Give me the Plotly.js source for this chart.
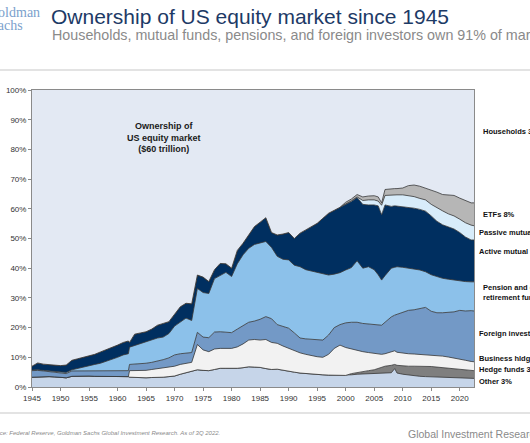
<!DOCTYPE html>
<html>
<head>
<meta charset="utf-8">
<script src="https://cdn.plot.ly/plotly-3.0.1.min.js"></script>
<style>
  html, body { margin: 0; padding: 0; background: #ffffff; }
  #chart { width: 530px; height: 443px; }
</style>
</head>
<body>
<div id="chart"></div>
<script>
// ---- Data (cumulative share of US equity market, %) ----
const years = [1945,1946,1947,1948,1949,1950,1951,1952,1953,1954,1955,1956,1957,1958,1959,1960,1961,1961.9,1962.1,
  1963,1964,1965,1966,1967,1968,1969,
  1970,1971,1972,1973,1974,1975,1976,1977,1978,1979,
  1980,1981,1982,1983,1984,1985,1986,1987,1988,1989,
  1990,1991,1992,1993,1994,1995,1996,1997,1998,1999,
  2000,2001,2002,2003,2004,2005,2005.7,2006.3,2006.9,2008,2008.6,2009,
  2010,2011,2012,2013,2014,2015,2016,2017,2018,2019,2020,2021,2022,2022.5];

const otherTop = [3.3,3.4,3.5,3.5,3.4,3.3,3.1,3.6,3.7,3.7,3.7,3.6,3.6,3.5,3.5,3.5,3.5,3.5,3.3,
  3.2,3.2,3.1,3.2,3.2,3.3,3.5,
  3.7,4.3,4.8,5.3,5.8,5.6,5.5,5.9,6.3,6.3,
  6.2,6.3,6.5,6.8,6.7,6.6,6.2,5.9,6.0,5.6,
  5.2,5.0,4.7,4.5,4.4,4.1,4.1,4.0,4.0,3.9,
  3.9,4.1,4.3,4.4,4.5,4.6,4.7,4.8,4.8,4.8,6.2,4.7,
  4.3,4.0,3.8,3.6,3.5,3.4,3.3,3.3,3.2,3.1,3.1,3.0,2.9,2.9];

const hedgeTop = [3.3,3.4,3.5,3.5,3.4,3.3,3.1,3.6,3.7,3.7,3.7,3.6,3.6,3.5,3.5,3.5,3.5,3.5,3.3,
  3.2,3.2,3.1,3.2,3.2,3.3,3.5,
  3.7,4.3,4.8,5.3,5.8,5.6,5.5,5.9,6.3,6.3,
  6.2,6.3,6.5,6.8,6.7,6.6,6.2,5.9,6.0,5.6,
  5.2,5.0,4.7,4.5,4.4,4.1,4.1,4.0,4.0,3.9,
  3.9,4.5,4.9,5.2,5.5,5.8,6.2,6.8,7.0,7.3,7.6,7.3,
  7.1,7.0,7.0,7.0,7.0,6.9,6.7,6.5,6.3,6.1,5.9,5.7,5.6,5.5];

const businessTop = [3.3,3.4,3.5,3.5,3.4,3.3,3.1,3.6,3.7,3.7,3.7,3.6,3.6,3.5,3.5,3.5,3.5,3.5,5.5,
  5.5,5.5,5.6,5.9,6.2,6.5,6.7,
  7.0,7.6,8.0,8.3,14.3,12.5,11.9,12.8,13.0,13.0,
  13.0,13.5,14.5,15.8,16.0,15.8,16.0,15.0,14.7,13.8,
  13.0,12.3,11.5,11.0,10.5,10.2,10.0,11.0,13.0,14.1,
  13.3,12.8,12.3,11.9,11.6,11.3,11.1,11.0,11.2,11.8,12.2,11.7,
  11.4,11.2,11.1,11.0,10.9,10.8,10.6,10.4,10.1,9.8,9.5,9.0,8.6,8.5];

const foreignTop = [5.5,5.6,5.4,5.2,5.0,4.6,4.5,5.4,5.4,5.4,5.4,5.4,5.5,5.5,5.5,5.5,5.5,5.5,7.6,
  7.7,7.8,8.0,8.3,8.7,9.2,9.8,
  10.8,11.2,11.5,11.6,18.4,16.8,16.6,18.5,18.6,18.4,
  18.3,19.5,20.8,21.8,22.2,22.8,23.7,23.0,21.0,20.5,
  19.8,18.2,16.5,16.2,16.0,15.9,15.8,17.5,20.0,21.0,
  21.6,21.8,21.8,21.4,21.2,21.0,20.8,20.8,21.8,23.6,24.2,24.5,
  25.2,25.8,26.0,26.5,26.8,25.5,25.0,25.0,25.2,25.3,25.8,25.6,25.7,25.6];

const pensionTop = [5.7,5.8,5.6,5.4,5.2,4.9,4.9,5.8,6.3,6.8,7.1,7.6,8.0,8.6,9.2,10.0,10.8,11.2,13.4,
  14.0,14.6,15.3,15.8,16.5,16.8,18.0,
  20.5,22.0,23.2,22.4,33.2,31.8,31.5,36.5,37.5,38.6,
  37.2,41.5,44.5,46.7,48.0,48.6,49.0,47.0,44.0,43.0,
  42.8,41.0,40.5,39.5,39.0,38.5,38.0,37.7,38.0,38.5,
  39.4,40.2,42.5,40.0,40.5,39.5,37.8,36.0,37.5,40.0,40.3,40.5,
  40.3,40.0,39.8,39.4,38.8,37.8,37.2,36.6,36.3,36.0,35.8,35.5,35.4,35.4];

const activeTop = [7.0,8.1,7.7,7.5,7.3,7.2,7.4,9.0,9.5,10.0,10.4,11.0,11.8,12.5,13.3,14.1,15.0,15.5,15.0,
  17.8,18.2,18.6,19.5,20.8,21.4,22.0,
  24.5,27.0,28.2,28.0,37.7,37.0,35.5,39.5,41.6,41.5,
  40.0,46.0,48.4,51.0,54.0,55.5,57.0,52.0,51.2,51.5,
  52.0,50.0,51.8,52.9,54.0,55.1,56.8,58.5,59.5,60.5,
  61.5,62.5,63.8,61.5,61.3,61.3,61.0,58.0,61.3,60.8,61.0,60.9,
  60.9,60.5,60.2,59.8,59.2,57.6,55.8,54.6,54.0,53.2,52.0,50.5,49.5,49.5];

const passiveTop = [7.0,8.1,7.7,7.5,7.3,7.2,7.4,9.0,9.5,10.0,10.4,11.0,11.8,12.5,13.3,14.1,15.0,15.5,15.0,
  17.8,18.2,18.6,19.5,20.8,21.4,22.0,
  24.5,27.0,28.2,28.0,37.7,37.0,35.5,39.5,41.6,41.5,
  40.0,46.0,48.4,51.0,54.0,55.5,57.0,52.0,51.2,51.5,
  52.0,50.0,51.8,52.9,54.0,55.1,56.8,58.5,59.5,60.5,
  61.6,62.7,64.0,62.8,63.0,63.0,62.6,61.2,64.5,64.7,64.7,64.7,
  64.7,64.4,64.1,63.5,63.0,61.5,60.3,59.3,58.3,57.6,56.5,55.3,54.5,54.3];

const etfTop = [7.0,8.1,7.7,7.5,7.3,7.2,7.4,9.0,9.5,10.0,10.4,11.0,11.8,12.5,13.3,14.1,15.0,15.5,15.0,
  17.8,18.2,18.6,19.5,20.8,21.4,22.0,
  24.5,27.0,28.2,28.0,37.7,37.0,35.5,39.5,41.6,41.5,
  40.0,46.0,48.4,51.0,54.0,55.5,57.0,52.0,51.2,51.5,
  52.0,50.0,51.8,52.9,54.0,55.1,56.8,58.5,59.5,60.5,
  62.2,63.3,64.8,64.0,64.3,64.4,64.0,62.0,66.5,66.8,66.8,66.8,
  67.0,67.8,68.0,67.6,67.0,66.2,65.6,64.8,64.7,64.5,63.6,62.8,62.0,62.0];

const householdsTop = [100,100,100,100,100,100,100,100,100,100,100,100,100,100,100,100,100,100,100,
  100,100,100,100,100,100,100,
  100,100,100,100,100,100,100,100,100,100,
  100,100,100,100,100,100,100,100,100,100,
  100,100,100,100,100,100,100,100,100,100,
  100,100,100,100,100,100,100,100,100,100,100,100,
  100,100,100,100,100,100,100,100,100,100,100,100,100,100];

const layerNames = ['Other','Hedge funds','Business hldgs','Foreign investors','Pension and government retirement funds',
  'Active mutual funds','Passive mutual funds','ETFs','Households'];
const layerTops = [otherTop, hedgeTop, businessTop, foreignTop, pensionTop, activeTop, passiveTop, etfTop, householdsTop];
const layerColors = ['#c6d5e9','#7f7f7f','#f2f2f2','#7399c6','#8cc1ea','#002f60','#d8ecfa','#b6b6b6','#e3e9f3'];

const rightLabels = ['Households 38%','ETFs 8%','Passive mutual funds 5%','Active mutual funds 14%',
  'Pension and government<br>retirement funds 10%','Foreign investors 16%','Business hldgs 3%','Hedge funds 3%','Other 3%'];
const yTickVals = [0,10,20,30,40,50,60,70,80,90,100];
const yTickText = ['0%','10%','20%','30%','40%','50%','60%','70%','80%','90%','100%'];

// ---- Layout helpers (pixel -> paper) ----
const W = 530, H = 443, ML = 32, MR = 56, MT = 90, MB = 56;
const PW = W - ML - MR, PH = H - MT - MB;
const px = x => (x - ML) / PW;
const py = y => (H - MB - y) / PH;
const FONT = 'Liberation Sans, Arial, sans-serif';
const SERIF = 'Liberation Serif, Times New Roman, serif';

const traces = layerTops.map((top, i) => ({
  x: years,
  y: top,
  name: layerNames[i],
  type: 'scatter',
  mode: 'lines',
  fill: i === 0 ? 'tozeroy' : 'tonexty',
  fillcolor: layerColors[i],
  line: { color: i === 8 ? 'rgba(0,0,0,0)' : '#353535', width: i === 8 ? 0 : 0.8 },
  hoverinfo: 'skip',
  showlegend: false
}));

const labelY = [131, 214, 232, 251, 292, 333, 358, 369, 381.5];
const labelX = [481, 481, 477, 477, 481, 477, 477, 477, 477];

const annotations = [
  { text: 'Households, mutual funds, pensions, and foreign investors own 91% of market',
    xref: 'paper', yref: 'paper', x: px(50), y: py(34.5), xanchor: 'left', yanchor: 'middle',
    showarrow: false, font: { family: FONT, size: 14.3, color: '#8a8a8a' } },
  { text: 'Goldman',
    xref: 'paper', yref: 'paper', x: px(-14), y: py(12.5), xanchor: 'left', yanchor: 'middle',
    showarrow: false, font: { family: SERIF, size: 14, color: '#7b9fcc' } },
  { text: 'Sachs',
    xref: 'paper', yref: 'paper', x: px(-12), y: py(25), xanchor: 'left', yanchor: 'middle',
    showarrow: false, font: { family: SERIF, size: 14, color: '#7b9fcc' } },
  { text: '<b>Ownership of<br>US equity market<br>($60 trillion)</b>', align: 'center',
    xref: 'paper', yref: 'paper', x: px(164), y: py(137), xanchor: 'center', yanchor: 'middle',
    showarrow: false, font: { family: FONT, size: 9, color: '#1a1a1a' } },
  { text: '<i>Source: Federal Reserve, Goldman Sachs Global Investment Research. As of 3Q 2022.</i>',
    xref: 'paper', yref: 'paper', x: px(-15), y: py(433), xanchor: 'left', yanchor: 'middle',
    showarrow: false, font: { family: FONT, size: 6, color: '#8a8a8a' } },
  { text: 'Global Investment Research',
    xref: 'paper', yref: 'paper', x: px(406), y: py(434), xanchor: 'left', yanchor: 'middle',
    showarrow: false, font: { family: FONT, size: 10.5, color: '#8a8a8a' } }
];
rightLabels.forEach((t, i) => {
  annotations.push({
    text: '<b>' + t + '</b>', align: 'left',
    xref: 'paper', yref: 'paper', x: px(labelX[i]), y: py(labelY[i]),
    xanchor: 'left', yanchor: 'middle', showarrow: false,
    font: { family: FONT, size: 7.5, color: '#111111' }
  });
});

const layout = {
  width: W, height: H, autosize: false,
  margin: { l: ML, r: MR, t: MT, b: MB, pad: 0 },
  paper_bgcolor: '#ffffff',
  plot_bgcolor: '#e3e9f3',
  font: { family: FONT, size: 8, color: '#333333' },
  title: {
    text: 'Ownership of US equity market since 1945',
    xref: 'container', yref: 'container',
    x: 51 / W, xanchor: 'left', y: 1 - 16.5 / H, yanchor: 'middle',
    font: { family: FONT, size: 21, color: '#1d3a66' }
  },
  xaxis: {
    range: [1945, 2022.5], tick0: 1945, dtick: 5, tickmode: 'linear',
    showgrid: false, zeroline: false,
    showline: true, mirror: true, linecolor: '#8a8a8a', linewidth: 1,
    ticks: 'outside', ticklen: 3, tickcolor: '#8a8a8a',
    tickfont: { family: FONT, size: 8, color: '#333333' },
    title: { text: '' }
  },
  yaxis: {
    range: [0, 100], tickmode: 'array', tickvals: yTickVals, ticktext: yTickText,
    showgrid: false, zeroline: false,
    showline: true, mirror: true, linecolor: '#8a8a8a', linewidth: 1,
    ticks: 'outside', ticklen: 3, tickcolor: '#8a8a8a',
    tickfont: { family: FONT, size: 8, color: '#333333' },
    title: { text: '' }
  },
  shapes: [
    { type: 'line', xref: 'paper', yref: 'paper', x0: -0.1, x1: 1.2, y0: py(70), y1: py(70),
      line: { color: '#dadada', width: 1.5 } },
    { type: 'line', xref: 'paper', yref: 'paper', x0: -0.1, x1: 1.2, y0: py(413), y1: py(413),
      line: { color: '#dadada', width: 1.5 } }
  ],
  annotations: annotations,
  showlegend: false
};

Plotly.newPlot('chart', traces, layout, { displayModeBar: false, staticPlot: true });
</script>
</body>
</html>
